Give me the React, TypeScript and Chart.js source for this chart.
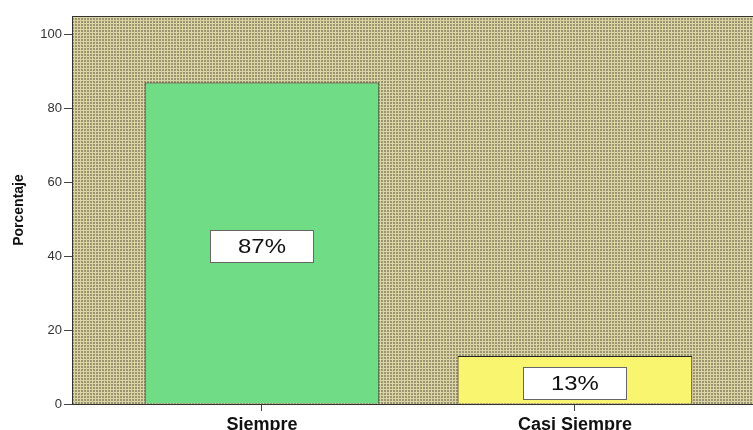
import React, { useEffect, useRef } from "react";
import { Chart, registerables } from "chart.js";

Chart.register(...registerables);

const categories = ["Siempre", "Casi Siempre"];
const positions = [1, 2];
const values = [87, 13];
const valueLabels = ["87%", "13%"];
const barColors = ["#70dd86", "#faf56f"];
const yTicks = [0, 20, 40, 60, 80, 100];
const yTitle = "Porcentaje";

const FONT = "Arial, 'Liberation Sans', sans-serif";

function makePattern(): CanvasPattern | string {
  const c = document.createElement("canvas");
  c.width = 3;
  c.height = 3;
  const g = c.getContext("2d");
  if (!g) return "#c4bc8c";
  g.fillStyle = "#dbd4a3";
  g.fillRect(0, 0, 3, 3);
  g.fillStyle = "#9a9472";
  g.fillRect(0, 0, 2, 2);
  const p = g.createPattern(c, "repeat");
  return p || "#c4bc8c";
}

const bgPlugin = {
  id: "plotBg",
  beforeDraw(chart: any) {
    const { ctx, chartArea } = chart;
    ctx.save();
    ctx.fillStyle = makePattern();
    ctx.fillRect(chartArea.left, chartArea.top, chartArea.right - chartArea.left, chartArea.bottom - chartArea.top);
    ctx.strokeStyle = "#333";
    ctx.lineWidth = 1;
    ctx.beginPath();
    ctx.moveTo(chartArea.left + 0.5, chartArea.bottom);
    ctx.lineTo(chartArea.left + 0.5, chartArea.top + 0.5);
    ctx.lineTo(chartArea.right, chartArea.top + 0.5);
    ctx.stroke();
    ctx.restore();
  },
};

const labelPlugin = {
  id: "valueBoxes",
  afterDatasetsDraw(chart: any) {
    const { ctx } = chart;
    const meta = chart.getDatasetMeta(0);
    ctx.save();
    meta.data.forEach((el: any, i: number) => {
      const cx = el.x;
      const cy = (el.y + el.base) / 2 + 3;
      const w = 103;
      const h = 32;
      const x0 = Math.round(cx - w / 2) + 0.5;
      const y0 = Math.round(cy - h / 2) + 0.5;
      ctx.fillStyle = "#ffffff";
      ctx.fillRect(x0, y0, w, h);
      ctx.strokeStyle = "#666";
      ctx.lineWidth = 1;
      ctx.strokeRect(x0, y0, w, h);
      ctx.fillStyle = "#111";
      ctx.font = "21px " + FONT;
      ctx.textAlign = "center";
      ctx.textBaseline = "middle";
      ctx.save();
      ctx.translate(cx, cy + 1);
      ctx.scale(1.14, 1);
      ctx.fillText(valueLabels[i], 0, 0);
      ctx.restore();
    });
    ctx.restore();
  },
};

export default function App() {
  const ref = useRef<HTMLCanvasElement>(null);
  useEffect(() => {
    if (!ref.current) return;
    const chart = new Chart(ref.current, {
      type: "bar",
      data: {
        datasets: [
          {
            data: positions.map((x, i) => ({ x, y: values[i] })),
            backgroundColor: barColors,
            borderColor: "#222",
            borderWidth: 1,
            barPercentage: 0.75,
            categoryPercentage: 1,
          },
        ],
      },
      options: {
        animation: false,
        responsive: false,
        devicePixelRatio: 1,
        layout: { padding: { top: 16, left: 0, right: 0, bottom: 0 } },
        plugins: { legend: { display: false }, tooltip: { enabled: false } },
        scales: {
          x: {
            type: "linear",
            offset: false,
            min: 0.393,
            max: 2.569,
            grid: { drawOnChartArea: false, offset: false, tickLength: 7, color: "#444" },
            border: { color: "#333", width: 1 },
            afterBuildTicks: (s: any) => {
              s.ticks = positions.map((v) => ({ value: v }));
            },
            afterFit: (s: any) => {
              s.height = 26;
            },
            ticks: {
              padding: 3,
              color: "#111",
              maxRotation: 0,
              autoSkip: false,
              font: { family: FONT, size: 18, weight: "bold" },
              callback: (v: any) => {
                const idx = positions.indexOf(Number(v));
                return idx >= 0 ? categories[idx] : "";
              },
            },
          },
          y: {
            min: 0,
            max: 105,
            grid: { drawOnChartArea: false, tickLength: 8, color: "#444" },
            border: { color: "#333", width: 1 },
            afterBuildTicks: (s: any) => {
              s.ticks = yTicks.map((v) => ({ value: v }));
            },
            afterFit: (s: any) => {
              s.width = 72;
            },
            title: {
              display: true,
              text: yTitle,
              color: "#111",
              padding: { top: 11, bottom: 0 },
              font: { family: FONT, size: 14, weight: "bold" },
            },
            ticks: {
              padding: 2,
              color: "#333",
              font: { family: FONT, size: 13 },
            },
          },
        },
      } as any,
      plugins: [bgPlugin, labelPlugin],
    });
    return () => chart.destroy();
  }, []);
  return (
    <div style={{ position: "absolute", left: 0, top: 0, width: 753, height: 430, background: "#fff", overflow: "hidden" }}>
      <canvas ref={ref} width={753} height={430} style={{ display: "block" }} />
    </div>
  );
}
